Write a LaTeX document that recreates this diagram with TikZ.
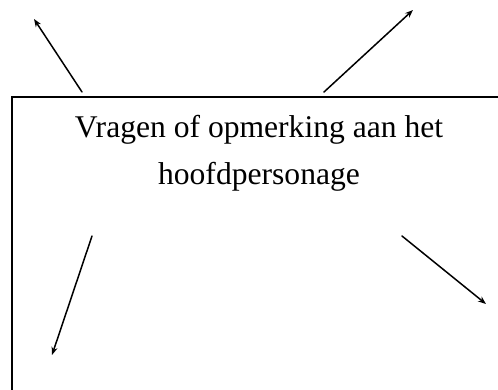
\documentclass[tikz,border=0pt]{standalone}
\usepackage{fontspec}
\setmainfont{Liberation Serif}
\usepackage{tikz}
\usetikzlibrary{arrows.meta}

\begin{document}
\begin{tikzpicture}[x=1pt,y=-1pt,line cap=round]
	\tikzstyle{pijl}=[line width=1.5pt,-{Stealth[length=8pt,width=6pt]}];
	\tikzstyle{vak}=[line width=1.8pt];
	\useasboundingbox (0,0) rectangle (498,389);
	\clip (0,0) rectangle (498,389);
	%%
	\coordinate (LB) at (12,97);
	\coordinate (RO) at (540,430);
	%%
	\coordinate (A1) at (82,92);
	\coordinate (A2) at (34,19);
	\coordinate (B1) at (324,92);
	\coordinate (B2) at (413,10);
	\coordinate (C1) at (92,236);
	\coordinate (C2) at (52,355);
	\coordinate (D1) at (402,236);
	\coordinate (D2) at (486,304);
	%%
	\draw[vak] (LB) rectangle (RO);
	\node[inner sep=0pt,anchor=north,align=center,font=\fontsize{31.6}{47}\selectfont] (vraag) at (259,115)
		{Vragen of opmerking aan het\\hoofdpersonage};
	%%
	\draw[pijl] (A1) -- (A2);
	\draw[pijl] (B1) -- (B2);
	\draw[pijl] (C1) -- (C2);
	\draw[pijl] (D1) -- (D2);
\end{tikzpicture}
\end{document}
